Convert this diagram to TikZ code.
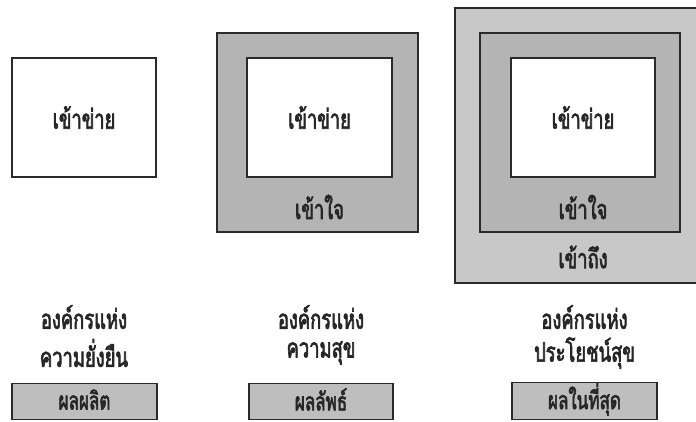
\documentclass[tikz,border=0pt]{standalone}
\usepackage{fontspec}
\newfontfamily\thai[Script=Thai,FakeStretch=0.68,FakeBold=2.4]{Loma}
\definecolor{edge}{HTML}{2A2A2A}
\definecolor{midgray}{HTML}{B4B4B4}
\definecolor{lightgray}{HTML}{C8C8C8}
\definecolor{btngray}{HTML}{BEBEBE}
\tikzset{
  box/.style={draw=edge, line width=1.5pt, inner sep=0pt, rectangle},
  lbl/.style={font=\thai\fontsize{27}{30}\selectfont, inner sep=0pt, text=black!85},
  btnlbl/.style={font=\thai\fontsize{25}{27}\selectfont, inner sep=0pt, text=black!85},
}
\begin{document}
\begin{tikzpicture}[x=1pt,y=-1pt]
\useasboundingbox (0,0) rectangle (696,421);
\clip (0,0) rectangle (696,421);
% column 1
\node[box, fill=white, minimum width=144pt, minimum height=119pt] (b1) at (84,117.5) {};
\node[lbl] (t1a) at (b1.center) {เข้าข่าย};
% column 2
\node[box, fill=midgray, minimum width=201pt, minimum height=199pt] (b2o) at (317.5,132.5) {};
\node[box, fill=white, minimum width=145pt, minimum height=119pt] (b2i) at (319.5,117.5) {};
\node[lbl] (t2a) at (b2i.center) {เข้าข่าย};
\node[lbl] (t2b) at (319.5,207) {เข้าใจ};
% column 3
\node[box, fill=lightgray, minimum width=260pt, minimum height=275pt] (b3x) at (585,145.5) {};
\node[box, fill=midgray, minimum width=200pt, minimum height=199pt] (b3o) at (580,132.5) {};
\node[box, fill=white, minimum width=144pt, minimum height=119pt] (b3i) at (583,117.5) {};
\node[lbl] (t3a) at (b3i.center) {เข้าข่าย};
\node[lbl] (t3b) at (583,207) {เข้าใจ};
\node[lbl] (t3c) at (583,257) {เข้าถึง};
% bottom labels
\node[lbl] (o1a) at (84,317) {องค์กรแห่ง};
\node[lbl] (o1b) at (84,353) {ความยั่งยืน};
\node[lbl] (o2a) at (321,317) {องค์กรแห่ง};
\node[lbl] (o2b) at (321,353) {ความสุข};
\node[lbl] (o3a) at (584.5,317) {องค์กรแห่ง};
\node[lbl] (o3b) at (584.5,353) {ประโยชน์สุข};
% bottom boxes
\node[box, fill=btngray, minimum width=145pt, minimum height=36pt] (r1) at (84.5,401.5) {};
\node[btnlbl] (r1t) at (84.5,399.5) {ผลผลิต};
\node[box, fill=btngray, minimum width=144pt, minimum height=36pt] (r2) at (321,401.5) {};
\node[btnlbl] (r2t) at (321,399.5) {ผลลัพธ์};
\node[box, fill=btngray, minimum width=145pt, minimum height=37pt] (r3) at (584.5,401) {};
\node[btnlbl] (r3t) at (584.5,399.5) {ผลในที่สุด};
\end{tikzpicture}
\end{document}
